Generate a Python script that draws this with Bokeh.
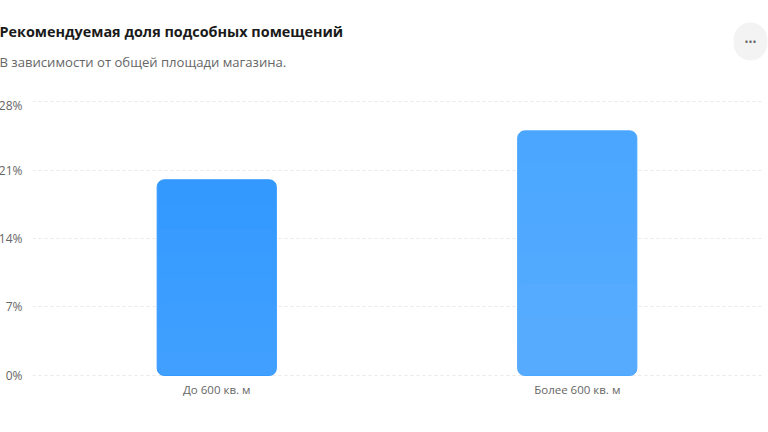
from bokeh.plotting import figure
from bokeh.models import FactorRange, Range1d, Label, FixedTicker, Title
from bokeh.embed import file_html
from bokeh.resources import INLINE

categories = ["До 600 кв. м", "Более 600 кв. м"]
values = [20, 25]
grid_ticks = [0, 7, 14, 21, 28]
label_ticks = [0, 7, 14, 21, 27.6]
tick_labels = {0: "0%", 7: "7%", 14: "14%", 21: "21%", 27.6: "28%"}
title = "Рекомендуемая доля подсобных помещений"
subtitle = "В зависимости от общей площади магазина."
menu_glyph = "•••"
base_colors = ["#3399ff", "#4aa6ff"]

FONT = "Open Sans"
SPARE = 62                      # unused space above the page's top edge
W, H = 773, 432 + SPARE
PAD = 3 / ((374.5 - 101) / 28)

p = figure(
    width=W, height=H, output_backend="svg", toolbar_location=None,
    x_range=FactorRange(factors=categories, range_padding=0.0111,
                        range_padding_units="absolute"),
    y_range=Range1d(-PAD, 28 + PAD),
    min_border_left=0, min_border_right=7, min_border_top=98 + SPARE, min_border_bottom=54,
    outline_line_color=None, background_fill_color="white", border_fill_color="white",
    margin=(-SPARE, 0, 0, -5),
)

p.xgrid.visible = False
p.ygrid.ticker = FixedTicker(ticks=grid_ticks)
p.ygrid.grid_line_color = "#e8e8e8"
p.ygrid.grid_line_dash = "3 3"
p.ygrid.grid_line_width = 1

p.yaxis.ticker = FixedTicker(ticks=label_ticks)
p.yaxis.major_label_overrides = tick_labels
p.yaxis.axis_line_color = None
p.yaxis.major_tick_line_color = None
p.yaxis.minor_tick_line_color = None
p.yaxis.major_tick_in = 0
p.yaxis.major_tick_out = 0
p.yaxis.major_label_standoff = 10
p.yaxis.major_label_text_font = FONT
p.yaxis.major_label_text_font_size = "12px"
p.yaxis.major_label_text_color = "#666666"

p.xaxis.axis_line_color = None
p.xaxis.major_tick_line_color = None
p.xaxis.minor_tick_line_color = None
p.xaxis.major_tick_in = 0
p.xaxis.major_tick_out = 0
p.xaxis.major_label_standoff = 3
p.xaxis.major_label_text_font = FONT
p.xaxis.major_label_text_font_size = "11.5px"
p.xaxis.major_label_text_color = "#666666"

BAR_W = 119 / 360
p.vbar(x=categories, top=values, width=BAR_W, fill_color=base_colors,
       line_color=base_colors, line_width=1, border_radius=7)
for frac in (0.875, 0.75, 0.625, 0.5, 0.375, 0.25, 0.125):
    p.vbar(x=categories, top=[v * frac for v in values], width=BAR_W,
           fill_color="white", fill_alpha=0.012, line_color=None, border_radius=7)

p.add_layout(Title(text=subtitle, align="left", offset=-33, standoff=56,
                   text_font=FONT, text_font_size="13.1px", text_font_style="normal",
                   text_color="#666666"), "above")
p.add_layout(Label(x=718, y=-19, x_units="screen", y_units="screen", text=menu_glyph,
                   text_font=FONT, text_font_size="10.5px", text_color="#666666",
                   text_baseline="middle", text_align="center",
                   background_fill_color="#f3f3f3", border_radius=18, padding=(11, 12)), "above")
p.add_layout(Label(x=-33, y=-47, x_units="screen", y_units="screen", text=title,
                   text_font=FONT, text_font_size="14.4px", text_font_style="bold",
                   text_color="#1a1a1a", text_baseline="middle", text_align="left"), "above")

open("out.html", "w").write(file_html(p, INLINE))
